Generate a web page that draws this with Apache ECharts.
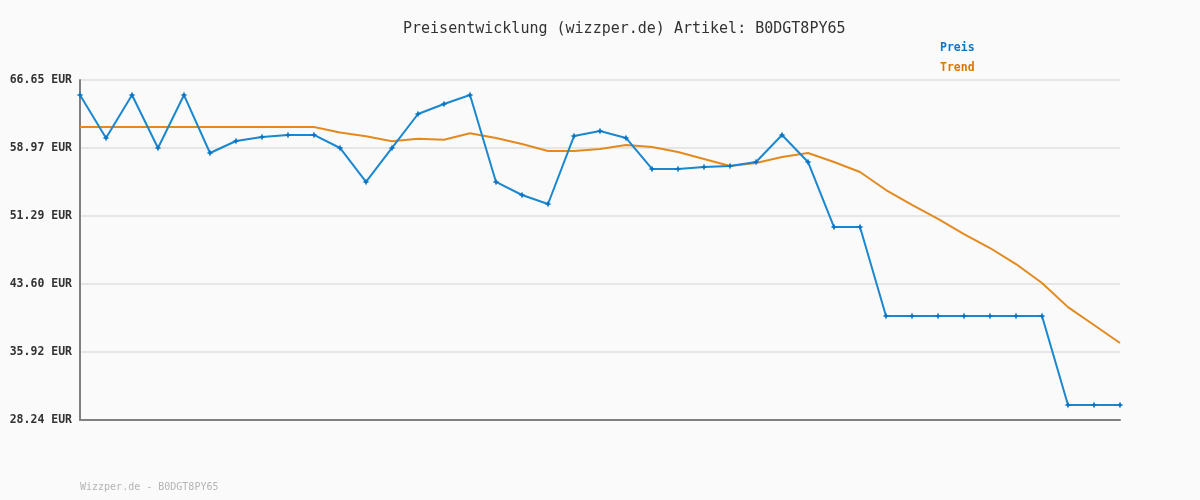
<!DOCTYPE html>
<html>
<head>
<meta charset="utf-8">
<script src="https://cdn.jsdelivr.net/npm/echarts@6/dist/echarts.min.js"></script>
<style>
html,body{margin:0;padding:0;background:#fafafa;}
#chart{width:1200px;height:500px;}
</style>
</head>
<body>
<div id="chart"></div>
<script>
var categories = ['1','2','3','4','5','6','7','8','9','10','11','12','13','14','15','16','17','18','19','20','21','22','23','24','25','26','27','28','29','30','31','32','33','34','35','36','37','38','39','40','41'];
var preis = [64.95,60.10,64.95,58.97,64.95,58.40,59.76,60.21,60.44,60.44,58.97,55.13,58.97,62.81,63.94,64.95,55.13,53.66,52.64,60.32,60.89,60.10,56.60,56.60,56.82,56.93,57.39,60.44,57.39,50.04,50.04,39.99,39.99,39.99,39.99,39.99,39.99,39.99,29.94,29.94,29.94];
var trend = [61.34,61.34,61.34,61.34,61.34,61.34,61.34,61.34,61.34,61.34,60.72,60.30,59.73,60.02,59.90,60.64,60.10,59.42,58.63,58.63,58.86,59.31,59.08,58.52,57.73,56.93,57.27,57.95,58.40,57.39,56.26,54.22,52.53,50.95,49.25,47.67,45.86,43.72,40.99,38.97,36.94];
var yTicks = [28.24,35.92,43.60,51.29,58.97,66.65];

var chart = echarts.init(document.getElementById('chart'), null, {renderer:'canvas'});
var mono = 'DejaVu Sans Mono, monospace';
chart.setOption({
  backgroundColor:'#fafafa',
  animation:false,
  title:{
    text:'Preisentwicklung (wizzper.de) Artikel: B0DGT8PY65',
    left:398, top:17,
    textStyle:{fontFamily:mono,fontSize:15,fontWeight:'normal',color:'#333333'}
  },
  legend:{
    orient:'vertical', left:930, top:37, itemGap:8,
    icon:'none', itemWidth:0, itemHeight:0,
    data:[
      {name:'Preis', textStyle:{color:'#0a77c8'}},
      {name:'Trend', textStyle:{color:'#dd7700'}}
    ],
    textStyle:{fontFamily:mono,fontSize:11.5,fontWeight:'bold'}
  },
  graphic:[{
    type:'text', left:80, top:482,
    style:{text:'Wizzper.de - B0DGT8PY65', fill:'#b4b4b4', font:'10px DejaVu Sans Mono, monospace'}
  }],
  grid:{left:80,right:80,top:80,bottom:80,containLabel:false},
  xAxis:{
    type:'category', data:categories, boundaryGap:false,
    axisLine:{show:true,lineStyle:{color:'#808080',width:2}},
    axisTick:{show:false}, axisLabel:{show:false}, splitLine:{show:false}
  },
  yAxis:{
    type:'value', min:28.24, max:66.65,
    axisLine:{show:true,lineStyle:{color:'#808080',width:2}},
    axisTick:{show:false},
    splitLine:{show:false},
    axisLabel:{
      customValues:yTicks, margin:8,
      fontFamily:mono, fontSize:11.5, fontWeight:'bold', color:'#333333',
      formatter:function(v){return v.toFixed(2)+' EUR';}
    }
  },
  series:[
    {
      name:'grid', type:'line', data:[], z:0, silent:true,
      markLine:{
        silent:true, z:0, symbol:['none','none'], label:{show:false},
        lineStyle:{color:'#e6e6e6',width:2,type:'solid'},
        emphasis:{disabled:true},
        data:yTicks.slice(1).map(function(v){return {yAxis:v};})
      }
    },
    {
      name:'Trend', type:'line', data:trend, z:2,
      showSymbol:false, symbol:'none',
      lineStyle:{color:'#e38a1f',width:2},
      itemStyle:{color:'#e38a1f'}
    },
    {
      name:'Preis', type:'line', data:preis, z:3,
      symbol:'path://M0,-1L0.3,-0.3L1,0L0.3,0.3L0,1L-0.3,0.3L-1,0L-0.3,-0.3Z',
      symbolSize:7, showSymbol:true,
      lineStyle:{color:'#1a87cf',width:2},
      itemStyle:{color:'#0a74c4'}
    }
  ]
});
</script>
</body>
</html>
